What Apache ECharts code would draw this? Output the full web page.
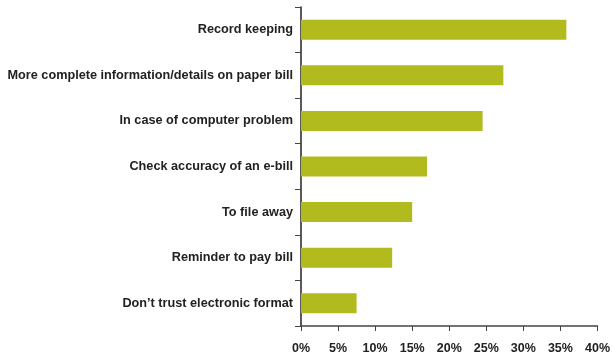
<!DOCTYPE html>
<html>
<head>
<meta charset="utf-8">
<script src="https://cdn.jsdelivr.net/npm/echarts@6/dist/echarts.min.js"></script>
<style>
  html, body { margin: 0; padding: 0; background: #fff; }
  #chart { width: 613px; height: 358px; }
</style>
</head>
<body>
<div id="chart"></div>
<script>
// Reasons for keeping paper bills (share of respondents, %)
const categories = [
  'Record keeping',
  'More complete information/details on paper bill',
  'In case of computer problem',
  'Check accuracy of an e-bill',
  'To file away',
  'Reminder to pay bill',
  'Don\u2019t trust electronic format'
];
const shares = [35.8, 27.3, 24.5, 17.0, 15.0, 12.3, 7.5];
const tickValues = [0, 5, 10, 15, 20, 25, 30, 35, 40];

const chart = echarts.init(document.getElementById('chart'));
const fontFamily = '"Liberation Sans", Arial, sans-serif';

chart.setOption({
  animation: false,
  grid: { left: 301, right: 14, top: 7, bottom: 32, containLabel: false },
  xAxis: {
    type: 'value',
    min: tickValues[0],
    max: tickValues[tickValues.length - 1],
    interval: 5,
    axisLine: { show: true, lineStyle: { color: '#444', width: 1.5 } },
    axisTick: { show: true, length: 5, lineStyle: { color: '#444', width: 1 } },
    splitLine: { show: false },
    axisLabel: {
      formatter: '{value}%',
      color: '#222',
      fontFamily: fontFamily,
      fontWeight: 'bold',
      fontSize: 12.5,
      margin: 16
    }
  },
  yAxis: {
    type: 'category',
    data: categories,
    inverse: true,
    axisLine: { show: true, lineStyle: { color: '#222', width: 1.5 } },
    axisTick: { show: true, length: 6, lineStyle: { color: '#444', width: 1 } },
    axisLabel: {
      color: '#222',
      fontFamily: fontFamily,
      fontWeight: 'bold',
      fontSize: 12.7,
      margin: 8
    }
  },
  series: [{
    type: 'bar',
    data: shares,
    barWidth: 20,
    itemStyle: { color: '#b2bb1e' }
  }]
});
</script>
</body>
</html>
